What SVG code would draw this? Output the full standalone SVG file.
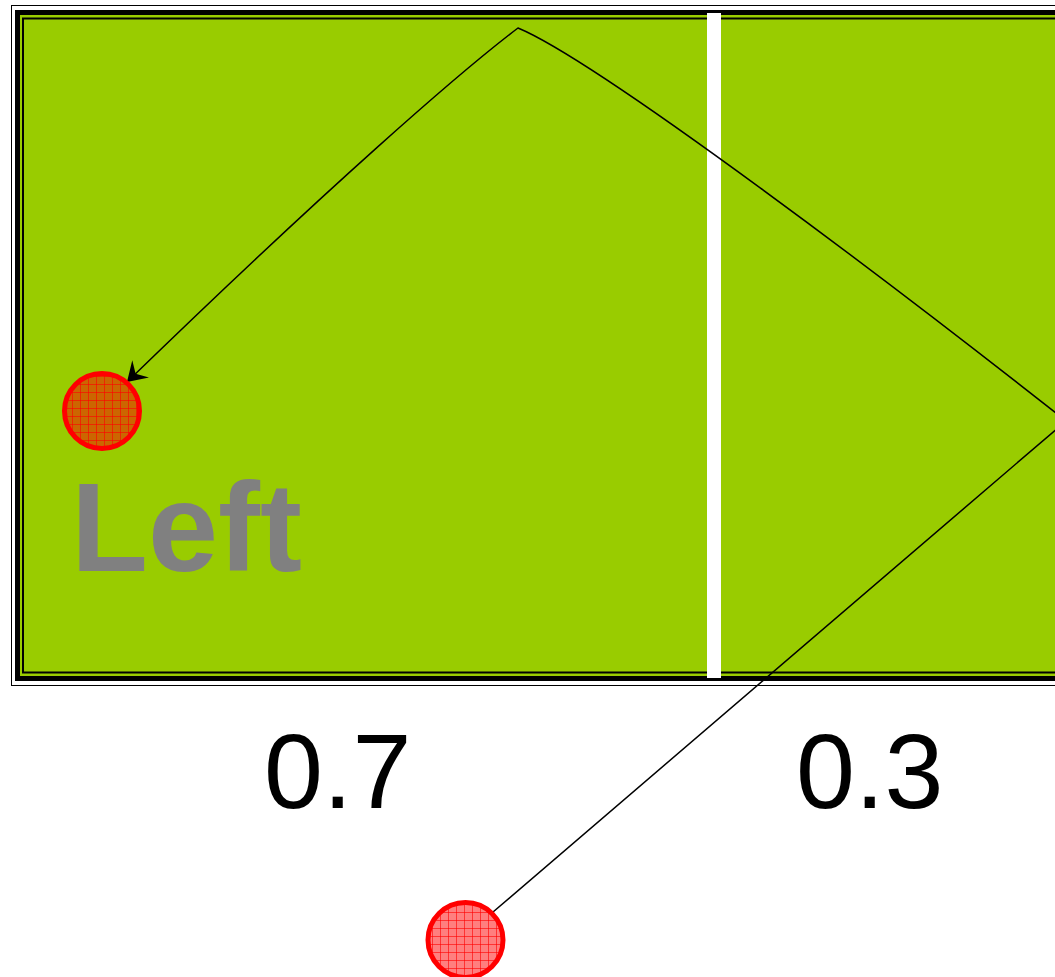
<svg xmlns="http://www.w3.org/2000/svg" width="1055" height="977" viewBox="0 0 1055 977">
<defs>
<style>
.lbl{font-family:"Liberation Sans",Arial,sans-serif;font-size:106px;fill:#000}
.big{font-family:"Liberation Sans",Arial,sans-serif;font-size:126px;font-weight:bold;fill:#808080}
.node{fill:url(#hatch);stroke:#ff0000;stroke-width:5}
.edge{fill:none;stroke:#000;stroke-width:1.5}
</style>
<pattern id="hatch" width="8" height="8" patternUnits="userSpaceOnUse">
<rect width="8" height="8" fill="#ff0000" fill-opacity="0.5"/>
<path d="M0 0.5H8M0.5 0V8" stroke="#ff0000" stroke-width="1" stroke-opacity="0.6"/>
</pattern>
<marker id="arr" markerWidth="24" markerHeight="26" refX="19" refY="12" orient="auto" markerUnits="userSpaceOnUse">
<path d="M0,0 L19,12 L0,24 L7,12 Z" fill="#000"/>
</marker>
</defs>
<rect width="1055" height="977" fill="#fff"/>
<g id="frame">
<rect x="11.5" y="5.5" width="1100" height="680" fill="#fff" stroke="#000" stroke-width="1"/>
<rect x="15" y="10" width="1100" height="671" fill="#000"/>
<rect x="20" y="15" width="1090" height="661" fill="#99cc00"/>
<rect x="23" y="18.5" width="1080" height="654" fill="#99cc00" stroke="#000" stroke-width="2"/>
<rect x="707" y="13" width="14" height="665" fill="#fff"/>
</g>
<g id="labels">
<text class="big" x="71" y="571">Left</text>
<text class="lbl" x="264" y="808">0.7</text>
<text class="lbl" x="796" y="808">0.3</text>
</g>
<g id="connectors">
<path class="edge" d="M493,912 L1066,421 C900,290 600,62 518,28 C460,72 330,185 127,382" marker-end="url(#arr)"/>
</g>
<g id="node-left">
<circle class="node" cx="102" cy="411" r="37.5"/>
</g>
<g id="node-bottom">
<circle class="node" cx="465.5" cy="940" r="37.5"/>
</g>
</svg>
